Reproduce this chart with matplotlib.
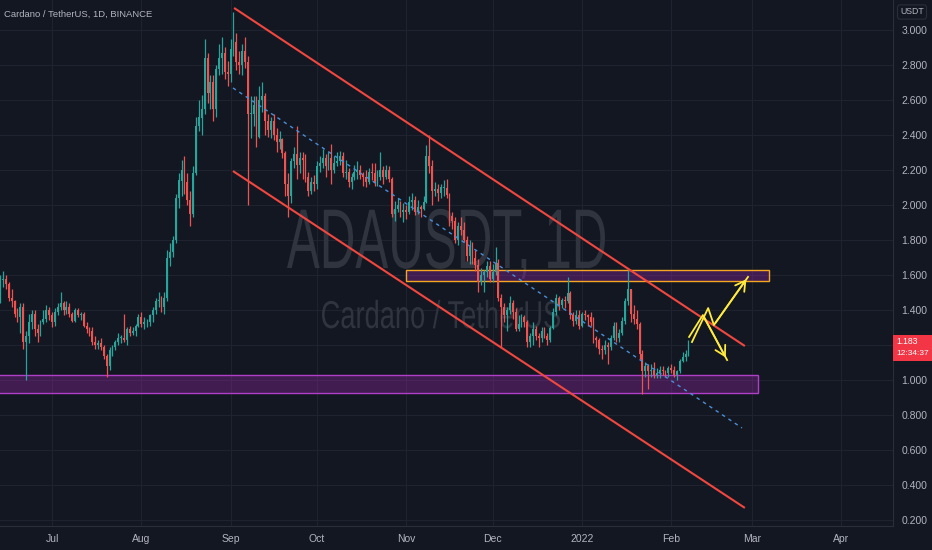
import numpy as np
import matplotlib
matplotlib.use("Agg")
import matplotlib.pyplot as plt
import matplotlib.dates as mdates
import matplotlib.transforms as mtransforms
from matplotlib.textpath import TextPath
from matplotlib.font_manager import FontProperties
from matplotlib.patches import Rectangle, PathPatch
import datetime as dt

# ---------------- data (daily ADA/USDT candles) ----------------
start_date = "2021-06-12"
first_open = 1.52
close = [1.49, 1.57, 1.58, 1.55, 1.47, 1.45, 1.38, 1.36, 1.42, 1.22, 1.25, 1.33, 1.38, 1.29, 1.27, 1.33, 1.35, 1.40, 1.37,
         1.33, 1.39, 1.42, 1.44, 1.40, 1.42, 1.38, 1.34, 1.40, 1.37, 1.38, 1.31, 1.29, 1.28, 1.22, 1.20, 1.21, 1.19, 1.14, 1.08,
         1.17, 1.19, 1.22, 1.24, 1.24, 1.23, 1.29, 1.27, 1.28, 1.31, 1.36,
         1.32, 1.33, 1.33, 1.37, 1.40, 1.45, 1.46, 1.42, 1.47, 1.70, 1.73, 1.80, 2.04, 2.14, 2.20, 2.13, 2.03, 1.95, 2.18, 2.45,
         2.50, 2.55, 2.84, 2.64, 2.70, 2.55, 2.78, 2.84, 2.87, 2.76, 2.75,
         2.89, 2.93, 2.82, 2.80, 2.88, 2.82, 2.52, 2.52, 2.57, 2.39, 2.60, 2.62, 2.48, 2.43, 2.48, 2.40, 2.36, 2.38, 2.30, 2.12,
         2.05, 2.25, 2.29, 2.23, 2.27, 2.26, 2.16, 2.08, 2.13, 2.12,
         2.22, 2.24, 2.27, 2.22, 2.27, 2.20, 2.24, 2.25, 2.28, 2.18, 2.19, 2.13, 2.16, 2.19, 2.20, 2.17, 2.16, 2.13, 2.19, 2.18,
         2.13, 2.16, 2.20, 2.16, 2.20, 2.15, 1.95, 1.98, 2.00, 1.96, 1.97,
         1.96, 2.02, 2.03, 1.96, 1.99, 1.98, 2.02, 2.28, 2.22, 2.08, 2.09, 2.07, 2.10, 2.10, 2.06, 1.94, 1.91, 1.80, 1.88, 1.86,
         1.80, 1.71, 1.76, 1.70, 1.66, 1.56, 1.60, 1.62, 1.65, 1.58,
         1.62, 1.67, 1.47, 1.42, 1.37, 1.40, 1.44, 1.39, 1.29, 1.32, 1.36, 1.33, 1.22, 1.25, 1.29, 1.25, 1.24, 1.28, 1.25, 1.23,
         1.30, 1.39, 1.47, 1.43, 1.46, 1.45, 1.50, 1.37, 1.34, 1.37, 1.31,
         1.38, 1.37, 1.36, 1.33, 1.24, 1.23, 1.18, 1.17, 1.20, 1.19, 1.24, 1.31, 1.24, 1.27, 1.34, 1.45, 1.52, 1.38, 1.35, 1.32,
         1.15, 1.05, 1.08, 1.05, 1.06, 1.03, 1.04, 1.06, 1.05, 1.04, 1.07,
         1.06, 1.03, 1.05, 1.11, 1.13, 1.15, 1.183]
high = [1.52, 1.60, 1.62, 1.60, 1.56, 1.52, 1.46, 1.41, 1.44, 1.44, 1.28, 1.38, 1.40, 1.40, 1.32, 1.34, 1.40, 1.43, 1.42,
        1.39, 1.41, 1.44, 1.50, 1.45, 1.45, 1.44, 1.39, 1.41, 1.41, 1.39, 1.39, 1.33, 1.30, 1.30, 1.25, 1.23, 1.24, 1.20, 1.15,
        1.19, 1.20, 1.23, 1.27, 1.26, 1.38, 1.30, 1.31, 1.30, 1.32, 1.38,
        1.39, 1.36, 1.35, 1.38, 1.42, 1.47, 1.50, 1.48, 1.50, 1.74, 1.78, 1.82, 2.06, 2.18, 2.26, 2.28, 2.18, 2.08, 2.22, 2.50,
        2.60, 2.63, 2.95, 2.87, 2.74, 2.74, 2.80, 2.92, 2.96, 2.90, 2.82,
        2.95, 3.10, 2.98, 2.88, 2.92, 2.96, 2.85, 2.62, 2.62, 2.62, 2.68, 2.70, 2.64, 2.52, 2.50, 2.52, 2.44, 2.42, 2.38, 2.31,
        2.18, 2.27, 2.33, 2.45, 2.30, 2.30, 2.29, 2.19, 2.16, 2.17,
        2.25, 2.28, 2.32, 2.29, 2.30, 2.35, 2.28, 2.30, 2.31, 2.30, 2.26, 2.21, 2.18, 2.23, 2.25, 2.23, 2.19, 2.20, 2.21, 2.24,
        2.24, 2.20, 2.30, 2.22, 2.23, 2.22, 2.16, 2.02, 2.04, 2.02, 2.01,
        2.00, 2.05, 2.07, 2.05, 2.03, 2.00, 2.05, 2.34, 2.40, 2.26, 2.13, 2.12, 2.12, 2.14, 2.15, 2.07, 1.96, 1.93, 1.90, 1.93,
        1.90, 1.82, 1.80, 1.79, 1.74, 1.69, 1.64, 1.63, 1.68, 1.68,
        1.66, 1.76, 1.69, 1.49, 1.44, 1.42, 1.48, 1.46, 1.41, 1.37, 1.38, 1.37, 1.34, 1.27, 1.33, 1.31, 1.27, 1.30, 1.30, 1.27,
        1.31, 1.41, 1.49, 1.48, 1.47, 1.48, 1.59, 1.51, 1.39, 1.40, 1.40,
        1.39, 1.40, 1.38, 1.39, 1.36, 1.25, 1.24, 1.20, 1.23, 1.22, 1.26, 1.33, 1.33, 1.29, 1.36, 1.47, 1.63, 1.52, 1.43, 1.40,
        1.33, 1.17, 1.10, 1.09, 1.09, 1.10, 1.07, 1.08, 1.08, 1.06, 1.08,
        1.09, 1.08, 1.06, 1.12, 1.16, 1.17, 1.23]
low = [1.40, 1.44, 1.53, 1.52, 1.45, 1.42, 1.36, 1.33, 1.27, 1.18, 1.00, 1.21, 1.29, 1.25, 1.22, 1.25, 1.32, 1.33, 1.34,
       1.30, 1.31, 1.37, 1.40, 1.37, 1.38, 1.36, 1.33, 1.33, 1.36, 1.34, 1.30, 1.27, 1.25, 1.20, 1.18, 1.18, 1.17, 1.12, 1.02,
       1.06, 1.14, 1.17, 1.20, 1.21, 1.22, 1.20, 1.25, 1.26, 1.25, 1.30,
       1.30, 1.29, 1.30, 1.31, 1.33, 1.38, 1.42, 1.39, 1.38, 1.45, 1.65, 1.70, 1.78, 1.98, 2.05, 2.06, 2.00, 1.88, 1.93, 2.17,
       2.42, 2.40, 2.52, 2.58, 2.55, 2.48, 2.50, 2.74, 2.75, 2.72, 2.68,
       2.70, 2.85, 2.77, 2.75, 2.74, 2.78, 2.00, 2.38, 2.45, 2.33, 2.38, 2.53, 2.40, 2.39, 2.38, 2.37, 2.30, 2.32, 2.27, 2.05,
       1.93, 2.01, 2.21, 2.15, 2.18, 2.15, 2.13, 2.05, 2.06, 2.08,
       2.09, 2.19, 2.21, 2.16, 2.20, 2.12, 2.18, 2.22, 2.23, 2.16, 2.15, 2.10, 2.09, 2.14, 2.15, 2.15, 2.11, 2.10, 2.12, 2.14,
       2.11, 2.11, 2.14, 2.12, 2.15, 2.13, 1.93, 1.91, 1.96, 1.93, 1.90,
       1.92, 1.95, 1.97, 1.94, 1.95, 1.93, 1.97, 2.01, 2.18, 2.00, 2.05, 2.02, 2.04, 2.05, 2.04, 1.88, 1.86, 1.78, 1.77, 1.83,
       1.79, 1.68, 1.66, 1.66, 1.62, 1.50, 1.54, 1.50, 1.59, 1.56,
       1.56, 1.60, 1.45, 1.19, 1.33, 1.28, 1.38, 1.35, 1.28, 1.28, 1.30, 1.30, 1.19, 1.19, 1.20, 1.23, 1.19, 1.22, 1.24, 1.20,
       1.22, 1.29, 1.37, 1.40, 1.41, 1.41, 1.44, 1.35, 1.31, 1.32, 1.29,
       1.30, 1.34, 1.31, 1.31, 1.21, 1.19, 1.15, 1.12, 1.15, 1.09, 1.17, 1.23, 1.22, 1.22, 1.26, 1.32, 1.43, 1.33, 1.32, 1.29,
       1.12, 0.92, 1.02, 0.95, 1.02, 1.01, 1.01, 1.01, 1.03, 1.02, 1.02,
       1.04, 1.02, 1.00, 1.04, 1.10, 1.11, 1.14]

price_ticks = [0.2, 0.4, 0.6, 0.8, 1.0, 1.2, 1.4, 1.6, 1.8, 2.0, 2.2, 2.4, 2.6, 2.8, 3.0]
month_ticks = ["2021-07-01", "2021-08-01", "2021-09-01", "2021-10-01", "2021-11-01", "2021-12-01",
               "2022-01-01", "2022-02-01", "2022-03-01", "2022-04-01"]
month_labels = ["Jul", "Aug", "Sep", "Oct", "Nov", "Dec", "2022", "Feb", "Mar", "Apr"]

# drawings (date, price)
channel_upper = [("2021-09-02 05:00", 3.126), ("2022-02-26 14:00", 1.194)]
channel_lower = [("2021-09-01 20:00", 2.194), ("2022-02-26 14:00", 0.269)]
channel_mid = [("2021-09-01 20:00", 2.669), ("2022-02-25 14:00", 0.726)]
support_zone = [("2021-06-01", "2022-03-03"), (0.926, 1.029)]
resist_zone = [("2021-11-01", "2022-03-07"), (1.566, 1.629)]
arrow_up_path = [("2022-02-08 05:00", 1.217), ("2022-02-13 20:00", 1.411), ("2022-02-15 20:00", 1.314), ("2022-02-27 16:00", 1.589)]
arrow_dn_path = [("2022-02-07 05:00", 1.246), ("2022-02-12 00:00", 1.371), ("2022-02-20 10:00", 1.114)]
last_time = "12:34:37"

# ---------------- build ----------------
n = len(close)
dates = mdates.date2num([dt.datetime.fromisoformat(start_date) + dt.timedelta(days=i) for i in range(n)])
close = np.array(close)
opens = np.concatenate([[first_open], close[:-1]])
high = np.maximum(np.array(high), np.maximum(opens, close))
low = np.minimum(np.array(low), np.minimum(opens, close))

def dn(s):
    return mdates.date2num(dt.datetime.fromisoformat(s))

BG = "#131722"
UP = "#26a69a"
DOWN = "#ef5350"
TXT = "#b2b5be"
GRID = "#1f2330"
FAM = ["Liberation Sans Narrow", "Liberation Sans", "DejaVu Sans"]

W, H = 932, 550
fig = plt.figure(figsize=(W / 100, H / 100), dpi=100, facecolor=BG)
ax_right = 893
ax_bottom = 526
ax = fig.add_axes([0, (H - ax_bottom) / H, ax_right / W, ax_bottom / H], facecolor=BG)

px_per_day = 2.88
xmin = dn("2021-07-01") - 52 / px_per_day
xmax = xmin + ax_right / px_per_day
ax.set_xlim(xmin, xmax)
ppy = 175.0  # px per price unit
ax.set_ylim(3.0 - (ax_bottom - 30) / ppy, 3.0 + 30 / ppy)

# grid
for p in price_ticks:
    ax.axhline(p, color=GRID, lw=0.8, zorder=0)
for m in month_ticks:
    ax.axvline(dn(m), color=GRID, lw=0.8, zorder=0)

# watermark (condensed by scaling a text path in pixel space)
def watermark(s, x0, x1, cap_top, baseline, color):
    tp = TextPath((0, 0), s, size=100, prop=FontProperties(family="Liberation Sans"))
    bb = tp.get_extents()
    sx = (x1 - x0) / bb.width
    sy = (baseline - cap_top) / 72.0  # cap height of Liberation Sans at size 100 ~ 72
    tr = mtransforms.Affine2D().translate(-bb.x0, 0).scale(sx, sy).translate(x0, H - baseline)
    patch = PathPatch(tr.transform_path(tp), facecolor=color, edgecolor="none",
                      transform=mtransforms.IdentityTransform(), zorder=0.5)
    ax.add_artist(patch)

watermark("ADAUSDT, 1D", 287, 605, 207, 268, "#30343f")
watermark("Cardano / TetherUS", 322, 560, 300, 328, "#30343f")

# zones
(sz_d, sz_p) = support_zone
ax.add_patch(Rectangle((dn(sz_d[0]), sz_p[0]), dn(sz_d[1]) - dn(sz_d[0]), sz_p[1] - sz_p[0],
                       facecolor="#9c27b0", alpha=0.33, edgecolor="none", zorder=1))
ax.add_patch(Rectangle((dn(sz_d[0]), sz_p[0]), dn(sz_d[1]) - dn(sz_d[0]), sz_p[1] - sz_p[0],
                       facecolor="none", edgecolor="#b03fc8", lw=1.0, zorder=1.1))
(rz_d, rz_p) = resist_zone
ax.add_patch(Rectangle((dn(rz_d[0]), rz_p[0]), dn(rz_d[1]) - dn(rz_d[0]), rz_p[1] - rz_p[0],
                       facecolor="#9c27b0", alpha=0.33, edgecolor="none", zorder=1))
ax.add_patch(Rectangle((dn(rz_d[0]), rz_p[0]), dn(rz_d[1]) - dn(rz_d[0]), rz_p[1] - rz_p[0],
                       facecolor="none", edgecolor="#f5a623", lw=1.0, zorder=1.1))

# candles
colors = np.where(close >= opens, UP, DOWN)
ax.vlines(dates, low, high, colors=colors, lw=0.9, zorder=2)
body_lo = np.minimum(opens, close)
body_h = np.maximum(np.abs(close - opens), 0.004)
ax.bar(dates, body_h, bottom=body_lo, width=0.65, color=colors, edgecolor="none", zorder=2.1)

# channel
for line, col, ls, lw in [(channel_upper, "#f0473f", "-", 1.5), (channel_lower, "#f0473f", "-", 1.5),
                          (channel_mid, "#4a8fd8", (0, (2.5, 3)), 1.0)]:
    ax.plot([dn(d) for d, _ in line], [p for _, p in line], color=col, ls=ls, lw=lw, zorder=3,
            solid_capstyle="butt")

# yellow arrows
for path in (arrow_up_path, arrow_dn_path):
    xs = [dn(d) for d, _ in path]
    ys = [p for _, p in path]
    ax.plot(xs, ys, color="#ffeb3b", lw=1.3, zorder=4)
    ax.annotate("", xy=(xs[-1], ys[-1]), xytext=(xs[-2], ys[-2]),
                arrowprops=dict(arrowstyle="->,head_length=0.7,head_width=0.4", color="#ffeb3b", lw=1.3), zorder=4)

# axes styling
ax.set_xticks([dn(m) for m in month_ticks])
ax.set_xticklabels(month_labels)
ax.set_yticks(price_ticks)
ax.set_yticklabels(["" if abs(p - 1.2) < 1e-6 else f"{p:.3f}" for p in price_ticks])
ax.yaxis.tick_right()
ax.tick_params(axis="both", length=0, colors=TXT, labelsize=7.5)
ax.tick_params(axis="x", pad=6)
ax.tick_params(axis="y", pad=6)
for lab in ax.get_xticklabels() + ax.get_yticklabels():
    lab.set_family(FAM)
for s in ["top", "left"]:
    ax.spines[s].set_visible(False)
ax.spines["right"].set_color("#2a2e39")
ax.spines["bottom"].set_color("#2a2e39")

# title
ax.text(0.005, 0.972, "Cardano / TetherUS, 1D, BINANCE", transform=ax.transAxes, ha="left", va="center",
        fontsize=6.8, color=TXT, family=FAM)

# USDT label
fig.text(912 / W, 1 - 12 / H, "USDT", ha="center", va="center", fontsize=6.3, color=TXT, family=FAM,
         bbox=dict(boxstyle="round,pad=0.3,rounding_size=0.3", fc=BG, ec="#2a2e39", lw=0.8))

# last price label (red box on the price scale)
last = close[-1]
box_h = 26 / ppy
blend = mtransforms.blended_transform_factory(ax.transAxes, ax.transData)
ax.add_patch(Rectangle((1.0, last - box_h / 2), W / ax_right - 1.0, box_h, transform=blend,
                       facecolor="#f23645", edgecolor="none", clip_on=False, zorder=5))
ax.text(1.0 + 3 / ax_right, last + 6 / ppy, f"{last:.3f}", transform=blend, ha="left", va="center",
        fontsize=6.2, color="white", family=FAM, clip_on=False, zorder=6)
ax.text(1.0 + 3 / ax_right, last - 6 / ppy, last_time, transform=blend, ha="left", va="center",
        fontsize=6.0, color="white", family=FAM, clip_on=False, zorder=6)

fig.savefig("out.png", dpi=100, facecolor=BG)
